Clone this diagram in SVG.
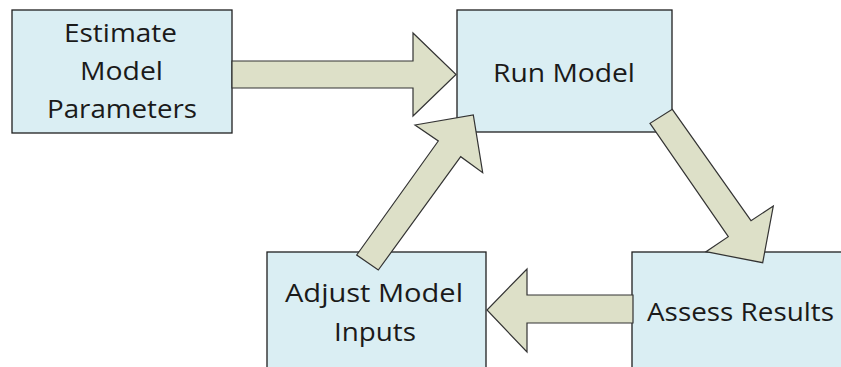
<svg xmlns="http://www.w3.org/2000/svg" width="841" height="367" viewBox="0 0 841 367">
  <defs>
    <style>
      .box { fill: #DAEEF3; stroke: #1f1f1f; stroke-width: 1.3; }
      .arrow { fill: #DDE0C8; stroke: #333333; stroke-width: 1.2; stroke-linejoin: miter; }
      .label { font-family: "Open Sans", "Liberation Sans", sans-serif; font-size: 26px; fill: #1a1a1a; text-anchor: middle; }
    </style>
  </defs>
  <rect width="841" height="367" fill="#ffffff"/>

  <g id="estimate-model-parameters">
    <rect class="box" x="12" y="10" width="220" height="123"/>
    <text class="label" x="120.5" y="42" textLength="113" lengthAdjust="spacingAndGlyphs">Estimate</text>
    <text class="label" x="121.5" y="80" textLength="83" lengthAdjust="spacingAndGlyphs">Model</text>
    <text class="label" x="122" y="118" textLength="150" lengthAdjust="spacingAndGlyphs">Parameters</text>
  </g>

  <g id="run-model">
    <rect class="box" x="457" y="10" width="215" height="122"/>
    <text class="label" x="564" y="82" textLength="142" lengthAdjust="spacingAndGlyphs">Run Model</text>
  </g>

  <g id="assess-results">
    <rect class="box" x="632" y="252" width="217" height="130"/>
    <text class="label" x="740.5" y="321" textLength="187" lengthAdjust="spacingAndGlyphs">Assess Results</text>
  </g>

  <g id="adjust-model-inputs">
    <rect class="box" x="267" y="252" width="219" height="130"/>
    <text class="label" x="374" y="302" textLength="178" lengthAdjust="spacingAndGlyphs">Adjust Model</text>
    <text class="label" x="375" y="341" textLength="82" lengthAdjust="spacingAndGlyphs">Inputs</text>
  </g>

  <g id="connectors">
    <polygon class="arrow" points="232,61 413,61 413,33 456,74.5 413,116 413,88 232,88"/>
    <polygon class="arrow" points="650,123.3 728.3,236.7 706,251.7 762.7,262.7 773.3,206 751,220.7 672.3,109.3"/>
    <polygon class="arrow" points="633,295 527,295 527,269 487,310 527,352 527,323 633,323"/>
    <polygon class="arrow" points="356.7,255 438.3,141 415,125 473.3,115 482.7,172.7 460.7,156.7 378.3,270"/>
  </g>
</svg>
